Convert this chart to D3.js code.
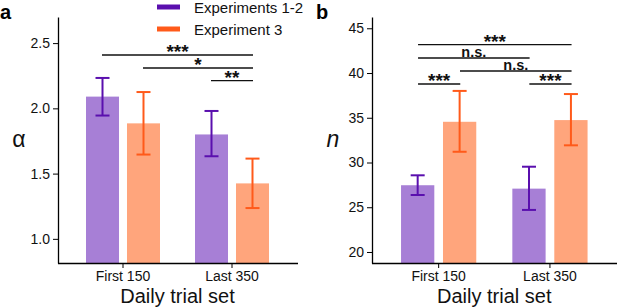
<!DOCTYPE html>
<html>
<head>
<meta charset="utf-8">
<script src="https://cdn.jsdelivr.net/npm/d3@7"></script>
<style>
  body { margin: 0; background: #fff; }
  svg { font-family: "Liberation Sans", Arial, sans-serif; }
</style>
</head>
<body>
<svg id="chart" width="617" height="308"></svg>
<script>
// categories and groups
const categories = ["First 150", "Last 350"];
const groups = ["Experiments 1-2", "Experiment 3"];

// panel a: alpha
const alphaMean = [[2.09, 1.80], [1.885, 1.425]];
const alphaLow = [[1.945, 1.633], [1.646, 1.236]];
const alphaHigh = [[2.233, 1.98], [2.125, 1.615]];
const alphaTicks = [1.0, 1.5, 2.0, 2.5];

// panel b: n
const nMean = [[27.46, 27.08], [34.55, 34.74]];
const nLow = [[26.37, 24.7], [31.2, 31.92]];
const nHigh = [[28.57, 29.53], [38.0, 37.65]];
const nTicks = [20, 25, 30, 35, 40, 45];

// significance brackets: "group-category" of first and last bar, label
const sigA = [["0-0", "1-1", "***"], ["1-0", "1-1", "*"], ["0-1", "1-1", "**"]];
const sigB = [["0-0", "1-1", "***"], ["0-0", "0-1", "n.s."], ["1-0", "1-1", "n.s."], ["0-0", "1-0", "***"], ["0-1", "1-1", "***"]];

const barColor = ["#a77fd6", "#ffa57c"];
const errColor = ["#5a0fae", "#ff5a1a"];

const svg = d3.select("#chart");

function panel(opts) {
  const g = svg.append("g");
  const y = d3.scaleLinear().domain(opts.domain).range([263, 17]);
  const x = d3.scaleBand().domain(categories).range([opts.x0, opts.x1]);
  const xs = d3.scaleBand().domain(groups).range([0, x.bandwidth()]).paddingInner(opts.inner).paddingOuter(opts.outer);

  const barX = (gi, ci) => x(categories[ci]) + xs(groups[gi]);
  const barMid = (gi, ci) => barX(gi, ci) + xs.bandwidth() / 2;

  // bars
  groups.forEach((grp, gi) => {
    categories.forEach((c, ci) => {
      g.append("rect")
        .attr("x", barX(gi, ci))
        .attr("width", xs.bandwidth())
        .attr("y", y(opts.mean[gi][ci]))
        .attr("height", 263 - y(opts.mean[gi][ci]))
        .attr("fill", barColor[gi]);
    });
  });
  // error bars
  groups.forEach((grp, gi) => {
    categories.forEach((c, ci) => {
      const cx = barMid(gi, ci);
      const e = g.append("g").attr("stroke", errColor[gi]).attr("stroke-width", 2).attr("fill", "none");
      e.append("line").attr("x1", cx).attr("x2", cx).attr("y1", y(opts.low[gi][ci])).attr("y2", y(opts.high[gi][ci]));
      [opts.low[gi][ci], opts.high[gi][ci]].forEach(v => {
        e.append("line").attr("x1", cx - 7).attr("x2", cx + 7).attr("y1", y(v)).attr("y2", y(v));
      });
    });
  });

  // axes
  const yAxis = g.append("g").attr("transform", `translate(${opts.axX},0)`)
    .call(d3.axisLeft(y).tickValues(opts.ticks).tickFormat(opts.fmt).tickSize(5).tickPadding(3).tickSizeOuter(0));
  yAxis.select(".domain").attr("stroke-width", 1.3);
  yAxis.selectAll("text").attr("font-size", 14).attr("font-family", "Liberation Sans, Arial, sans-serif").attr("fill", "#111");

  const xAxis = g.append("g").attr("transform", "translate(0,263)")
    .call(d3.axisBottom(x).tickSize(5).tickSizeOuter(0).tickPadding(3));
  xAxis.select(".domain").attr("d", `M${opts.axX},0.5H${opts.xEnd}`).attr("stroke-width", 1.3);
  xAxis.selectAll("text").attr("font-size", 14).attr("font-family", "Liberation Sans, Arial, sans-serif").attr("fill", "#111");

  // x label
  g.append("text").attr("x", (opts.x0 + opts.x1) / 2)
    .attr("y", 303).attr("text-anchor", "middle").attr("font-size", 20).attr("fill", "#111").text("Daily trial set");

  // y label
  g.append("text").attr("x", opts.yLabX).attr("y", 147).attr("text-anchor", "middle")
    .attr("font-size", 23).attr("font-style", opts.yLabItalic ? "italic" : "normal").attr("fill", "#111").text(opts.yLab);

  // panel letter
  g.append("text").attr("x", opts.letterX).attr("y", 18.5).attr("font-size", 20).attr("font-weight", "bold").text(opts.letter);

  // significance
  opts.sig.forEach((s, i) => {
    const [a, b, lab] = s;
    const [ga, ca] = a.split("-").map(Number);
    const [gb, cb] = b.split("-").map(Number);
    const xa = barX(ga, ca) + opts.sigInset[0];
    const xb = barX(gb, cb) + xs.bandwidth() - opts.sigInset[1];
    const yy = opts.sigY[i];
    const ns = lab === "n.s.";
    g.append("line").attr("x1", xa).attr("x2", xb).attr("y1", yy).attr("y2", yy).attr("stroke", "#111").attr("stroke-width", 1.3);
    g.append("text").attr("x", (xa + xb) / 2).attr("y", ns ? yy - 1.5 : yy + 3).attr("text-anchor", "middle")
      .attr("font-size", ns ? 14.5 : 19).attr("font-weight", "bold").attr("fill", "#111")
      .text(lab);
  });
}

panel({
  domain: [0.815, 2.7], x0: 68.5, x1: 286.5, axX: 58, xEnd: 298, inner: 0.195, outer: 0.427,
  mean: alphaMean, low: alphaLow, high: alphaHigh, ticks: alphaTicks, fmt: d3.format(".1f"),
  yLab: "α", yLabX: 19, yLabItalic: false, letter: "a", letterX: 0,
  sig: sigA, sigY: [55, 68, 80.7], sigInset: [16, 16]
});

panel({
  domain: [18.77, 46.26], x0: 383, x1: 605.6, axX: 372, xEnd: 617, inner: 0.207, outer: 0.43,
  mean: nMean, low: nLow, high: nHigh, ticks: nTicks, fmt: d3.format("d"),
  yLab: "n", yLabX: 333, yLabItalic: true, letter: "b", letterX: 316,
  sig: sigB, sigY: [44.7, 58, 71, 84, 84], sigInset: [17, 16]
});

// legend
const legend = svg.append("g");
groups.forEach((grp, gi) => {
  const yy = 7 + gi * 22;
  legend.append("line").attr("x1", 157).attr("x2", 180).attr("y1", yy).attr("y2", yy)
    .attr("stroke", errColor[gi]).attr("stroke-width", 5);
  legend.append("text").attr("x", 194).attr("y", yy + 5.5).attr("font-size", 15).attr("fill", "#111").text(grp);
});
</script>
</body>
</html>
